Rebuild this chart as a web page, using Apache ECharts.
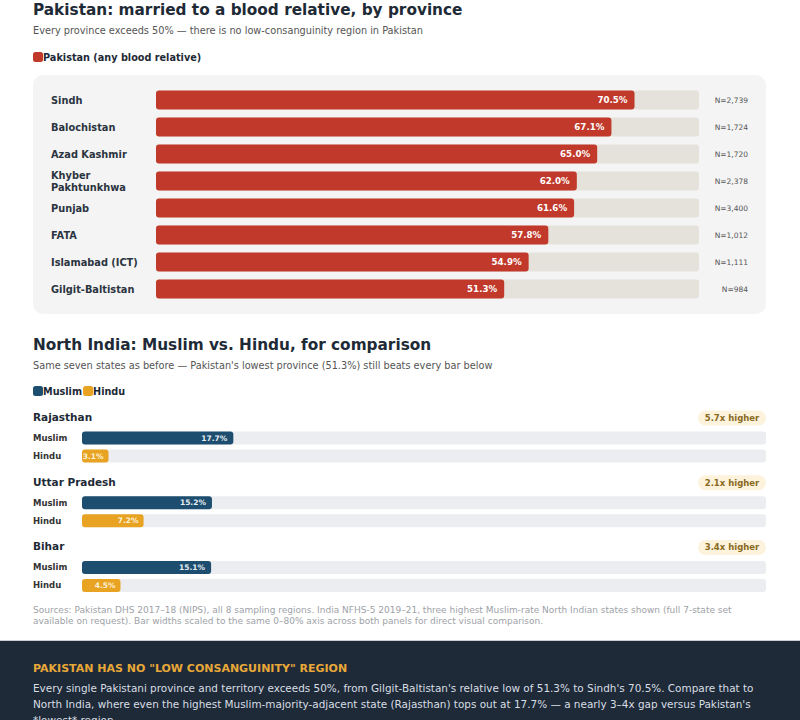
<!DOCTYPE html>
<html>
<head>
<meta charset="utf-8">
<script src="https://cdn.jsdelivr.net/npm/echarts@6/dist/echarts.min.js"></script>
<style>
html,body{margin:0;padding:0;background:#fff}
#chart{width:800px;height:720px}
</style>
</head>
<body>
<div id="chart"></div>
<script>
// Pakistan, by province
var provinces = ['Sindh', 'Balochistan', 'Azad Kashmir', 'Khyber\nPakhtunkhwa', 'Punjab', 'FATA', 'Islamabad (ICT)', 'Gilgit-Baltistan'];
var pakValues = [70.5, 67.1, 65.0, 62.0, 61.6, 57.8, 54.9, 51.3];
var pakN = ['N=2,739', 'N=1,724', 'N=1,720', 'N=2,378', 'N=3,400', 'N=1,012', 'N=1,111', 'N=984'];

// North India, Muslim vs Hindu
var states = ['Rajasthan', 'Uttar Pradesh', 'Bihar'];
var groups = ['Muslim', 'Hindu'];
var muslimValues = [17.7, 15.2, 15.1];
var hinduValues = [3.1, 7.2, 4.5];
var ratioLabels = ['5.7x higher', '2.1x higher', '3.4x higher'];

var axisMax = 80;
var FONT = '"DejaVu Sans", sans-serif';

var chart = echarts.init(document.getElementById('chart'), null, {renderer: 'svg'});

var fmt = function(p) {
	return p.value.toFixed(1) + '%';
};

var grids = [{left: 156, top: 86.5, width: 543, height: 216}];
var xAxes = [{gridIndex: 0, type: 'value', min: 0, max: axisMax, show: false}];
var yAxes = [{
	gridIndex: 0, type: 'category', data: provinces, inverse: true,
	axisLine: {show: false}, axisTick: {show: false},
	axisLabel: {align: 'left', margin: 105, fontFamily: FONT, fontSize: 9.8, fontWeight: 'bold', color: '#2b3440', lineHeight: 12}
}, {
	gridIndex: 0, type: 'category', data: pakN, inverse: true, position: 'right',
	axisLine: {show: false}, axisTick: {show: false},
	axisLabel: {align: 'right', margin: 49, fontFamily: FONT, fontSize: 7.5, color: '#555'}
}];
var series = [{
	name: 'Pakistan (any blood relative)',
	type: 'bar', xAxisIndex: 0, yAxisIndex: 0,
	data: pakValues, barWidth: 19,
	itemStyle: {color: '#c0392b', borderRadius: 3},
	showBackground: true,
	backgroundStyle: {color: '#e5e2dc', borderRadius: 3},
	label: {show: true, position: 'insideRight', distance: 7, color: '#fff', fontFamily: FONT, fontSize: 8.7, fontWeight: 'bold', formatter: fmt}
}];

var graphics = [
	{type: 'rect', z: -10, shape: {x: 33, y: 75, width: 733, height: 239, r: 10}, style: {fill: '#f4f4f4'}},
	{type: 'text', style: {x: 33, y: 10, text: 'Pakistan: married to a blood relative, by province', font: 'bold 15.3px ' + FONT, fill: '#1e2a36', verticalAlign: 'middle'}},
	{type: 'text', style: {x: 33, y: 30.5, text: 'Every province exceeds 50% \u2014 there is no low-consanguinity region in Pakistan', font: '9.75px ' + FONT, fill: '#555', verticalAlign: 'middle'}},
	{type: 'text', style: {x: 33, y: 344.5, text: 'North India: Muslim vs. Hindu, for comparison', font: 'bold 15.3px ' + FONT, fill: '#1e2a36', verticalAlign: 'middle'}},
	{type: 'text', style: {x: 33, y: 365, text: 'Same seven states as before \u2014 Pakistan\'s lowest province (51.3%) still beats every bar below', font: '9.75px ' + FONT, fill: '#555', verticalAlign: 'middle'}},
	{type: 'text', style: {x: 33, y: 604.5, text: 'Sources: Pakistan DHS 2017\u201318 (NIPS), all 8 sampling regions. India NFHS-5 2019\u201321, three highest Muslim-rate North Indian states shown (full 7-state set\navailable on request). Bar widths scaled to the same 0\u201380% axis across both panels for direct visual comparison.', font: '9px ' + FONT, fill: '#9ea2a7', verticalAlign: 'top', lineHeight: 11}},
	{type: 'rect', z: -10, shape: {x: 0, y: 641, width: 800, height: 79}, style: {fill: '#1e2a38'}},
	{type: 'rect', z: -9, shape: {x: 0, y: 640, width: 800, height: 1}, style: {fill: '#c9ccd0'}},
	{type: 'text', style: {x: 33, y: 668, text: 'PAKISTAN HAS NO "LOW CONSANGUINITY" REGION', font: 'bold 11px ' + FONT, fill: '#e8a838', verticalAlign: 'middle'}},
	{type: 'text', style: {x: 33, y: 680, text: 'Every single Pakistani province and territory exceeds 50%, from Gilgit-Baltistan\'s relative low of 51.3% to Sindh\'s 70.5%. Compare that to\nNorth India, where even the highest Muslim-majority-adjacent state (Rajasthan) tops out at 17.7% \u2014 a nearly 3\u20134x gap versus Pakistan\'s\n*lowest* region.', font: '10.45px ' + FONT, fill: '#d9dee4', verticalAlign: 'top', lineHeight: 16}}
];

var rowStep = 64.7;
for (var i = 0; i < states.length; i++) {
	var gi = i + 1;
	grids.push({left: 82, top: 429 + i * rowStep, width: 684, height: 36});
	xAxes.push({gridIndex: gi, type: 'value', min: 0, max: axisMax, show: false});
	yAxes.push({
		gridIndex: gi, type: 'category', data: groups, inverse: true,
		axisLine: {show: false}, axisTick: {show: false},
		axisLabel: {align: 'left', margin: 49, fontFamily: FONT, fontSize: 8.5, fontWeight: 'bold', color: '#333'}
	});
	series.push({
		name: 'Muslim', type: 'bar', xAxisIndex: gi, yAxisIndex: gi + 1,
		data: [muslimValues[i], '-'], barWidth: 13, barGap: '-100%',
		itemStyle: {color: '#1d4e6f', borderRadius: 3},
		showBackground: true, backgroundStyle: {color: '#ecedf0', borderRadius: 3},
		label: {show: true, position: 'insideRight', distance: 6, color: '#e6edf3', fontFamily: FONT, fontSize: 7.5, fontWeight: 'bold', formatter: fmt}
	});
	series.push({
		name: 'Hindu', type: 'bar', xAxisIndex: gi, yAxisIndex: gi + 1,
		data: ['-', hinduValues[i]], barWidth: 13, barGap: '-100%',
		itemStyle: {color: '#e8a323', borderRadius: 3},
		label: {show: true, position: 'insideRight', distance: 5, color: '#fdf1d6', fontFamily: FONT, fontSize: 7.5, fontWeight: 'bold', formatter: fmt}
	});
	// state heading and ratio badge
	graphics.push({type: 'text', style: {x: 33, y: 417 + i * rowStep, text: states[i], font: 'bold 10.5px ' + FONT, fill: '#1e2a36', verticalAlign: 'middle'}});
	graphics.push({type: 'rect', shape: {x: 698, y: 410.5 + i * rowStep, width: 68, height: 15, r: 7.5}, style: {fill: '#fdf3dc'}});
	graphics.push({type: 'text', style: {x: 732, y: 418 + i * rowStep, text: ratioLabels[i], font: 'bold 8.5px ' + FONT, fill: '#8a6a22', align: 'center', verticalAlign: 'middle'}});
}

var option = {
	backgroundColor: '#fff',
	animation: false,
	legend: [{
		data: ['Pakistan (any blood relative)'], left: 33, top: 52, padding: 0,
		itemWidth: 10, itemHeight: 10, icon: 'roundRect', selectedMode: false,
		textStyle: {fontFamily: FONT, fontSize: 9.7, fontWeight: 'bold', color: '#1e2a36', padding: [0, 0, 0, -5]}
	}, {
		data: ['Muslim', 'Hindu'], left: 33, top: 386, padding: 0, itemGap: 1,
		itemWidth: 10, itemHeight: 10, icon: 'roundRect', selectedMode: false,
		textStyle: {fontFamily: FONT, fontSize: 9.7, fontWeight: 'bold', color: '#1e2a36', padding: [0, 0, 0, -5]}
	}],
	grid: grids,
	xAxis: xAxes,
	yAxis: yAxes,
	series: series,
	graphic: graphics
};
chart.setOption(option);
</script>
</body>
</html>
